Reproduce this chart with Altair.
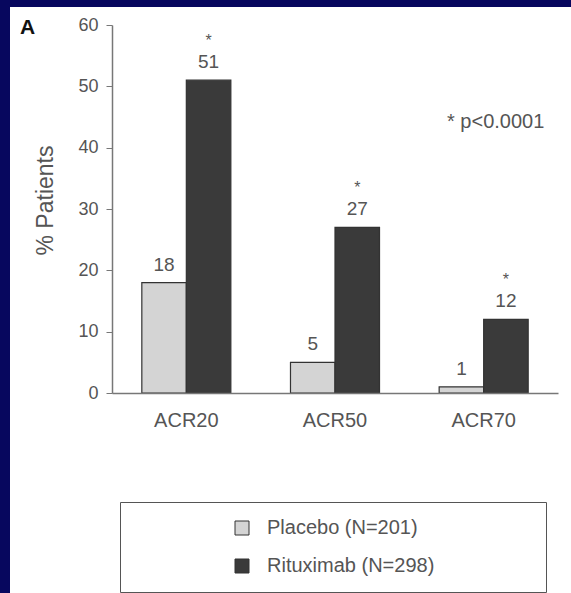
import altair as alt
import pandas as pd

# ACR response rates at week 24
categories = ["ACR20", "ACR50", "ACR70"]
series = ["Placebo (N=201)", "Rituximab (N=298)"]
placebo = [18, 5, 1]
rituximab = [51, 27, 12]
significance = ["*", "*", "*"]  # rituximab vs placebo
footnote = "* p<0.0001"

rows = []
for i, cat in enumerate(categories):
    rows.append({"group": cat, "series": series[0], "value": placebo[i], "sig": ""})
    rows.append({"group": cat, "series": series[1], "value": rituximab[i], "sig": significance[i]})
df = pd.DataFrame(rows)

FONT = "Liberation Sans"
TEXT_GREY = "#555555"

x_enc = alt.X(
    "group:N",
    sort=categories,
    scale=alt.Scale(paddingInner=0, paddingOuter=0),
    axis=alt.Axis(title=None, ticks=False, labelAngle=0, labelFontSize=20,
                  labelPadding=17, labelColor=TEXT_GREY, labelFont=FONT,
                  domainColor="#777777", domainWidth=1.5, zindex=1),
)
xoff_enc = alt.XOffset("series:N", sort=series,
                       scale=alt.Scale(paddingInner=0, paddingOuter=0.67))
y_enc = alt.Y(
    "value:Q",
    scale=alt.Scale(domain=[0, 60], nice=False),
    axis=alt.Axis(title="% Patients", values=[0, 10, 20, 30, 40, 50, 60],
                  grid=False, tickSize=6, tickColor="#777777", domainColor="#777777",
                  domainWidth=1.5, labelFontSize=18, labelColor=TEXT_GREY,
                  labelFont=FONT, labelPadding=8, zindex=1,
                  titleFont=FONT, titleFontSize=23, titleFontWeight="normal",
                  titleColor=TEXT_GREY, titleAngle=270, titleAlign="center",
                  titleBaseline="middle", titleX=-67, titleY=175),
)

base = alt.Chart(df)

# white sheet framed by the navy slide background
sheet = alt.Chart(pd.DataFrame({"k": [0]})).mark_rect(color="white").encode(
    x=alt.value(-102), x2=alt.value(459), y=alt.value(-18), y2=alt.value(568)
)

bars = base.mark_bar(stroke="#333333", strokeWidth=1.2).encode(
    x=x_enc,
    xOffset=xoff_enc,
    y=y_enc,
    color=alt.Color(
        "series:N",
        sort=series,
        scale=alt.Scale(domain=series, range=["#d4d4d4", "#3a3a3a"]),
        legend=alt.Legend(
            title=" ", titleOrient="right", titlePadding=96,
            orient="none", legendX=8, legendY=477,
            direction="vertical", symbolType="square", symbolSize=196,
            symbolStrokeColor="#333333", symbolStrokeWidth=1,
            symbolOffset=96, labelOffset=15, labelFontSize=20, labelLimit=400,
            labelFont=FONT, labelColor=TEXT_GREY, rowPadding=18,
            padding=16, strokeColor="#555555", fillColor="white",
        ),
    ),
)

values = base.mark_text(baseline="middle", dy=-18, fontSize=19, font=FONT,
                        color=TEXT_GREY).encode(
    x=alt.X("group:N", sort=categories),
    xOffset=alt.XOffset("series:N", sort=series),
    y="value:Q",
    text="value:Q",
)

stars = base.mark_text(baseline="bottom", dy=-31, fontSize=16, font=FONT,
                       color=TEXT_GREY).encode(
    x=alt.X("group:N", sort=categories),
    xOffset=alt.XOffset("series:N", sort=series),
    y="value:Q",
    text="sig:N",
)

note = alt.Chart(pd.DataFrame({"group": ["ACR70"], "value": [44.2], "t": [footnote]})).mark_text(
    baseline="middle", align="center", dx=12, fontSize=20, font=FONT, color=TEXT_GREY
).encode(
    x=alt.X("group:N", sort=categories),
    y="value:Q",
    text="t:N",
)

chart = alt.layer(sheet, bars, values, stars, note).properties(
    width=446,
    height=368,
    background="#07075e",
    padding={"left": 112, "top": 25, "right": 13, "bottom": 200},
    autosize=alt.AutoSizeParams(type="none"),
    title=alt.TitleParams("A", anchor="start", frame="group", dx=-92, dy=42,
                          offset=0, baseline="middle", fontSize=21,
                          fontWeight="bold", font=FONT, color="#111111"),
).configure_view(stroke=None)

chart.save("out.html", embed_options={"renderer": "svg", "actions": False})
